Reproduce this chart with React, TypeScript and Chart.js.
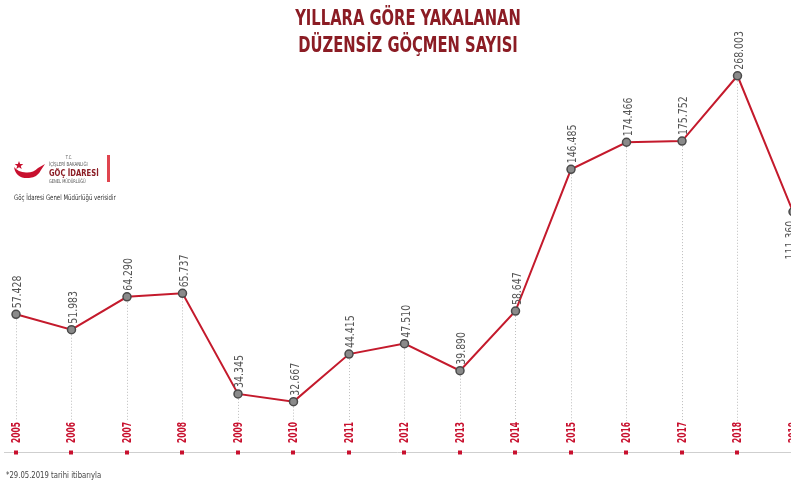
import React, { useEffect, useRef } from "react";
import { Chart, registerables } from "chart.js";

Chart.register(...registerables);

const years = [2005, 2006, 2007, 2008, 2009, 2010, 2011, 2012, 2013, 2014, 2015, 2016, 2017, 2018, 2019];
const values = [57428, 51983, 64290, 65737, 34345, 32667, 44415, 47510, 39890, 58647, 146485, 174466, 175752, 268003, 111360];
const labelBelow = [false, false, false, false, false, false, false, false, false, false, false, false, false, false, true];

const titleLines = ["YILLARA GÖRE YAKALANAN", "DÜZENSİZ GÖÇMEN SAYISI"];
const footnote = "*29.05.2019 tarihi itibarıyla";
const sourceText = "Göç İdaresi Genel Müdürlüğü verisidir";

const NARROW = '"Liberation Sans Narrow", "DejaVu Sans Condensed", "Arial Narrow", sans-serif';
const RED = "#c8102e";
const LINE_RED = "#c41a2c";
const TITLE_RED = "#8b1c24";

function fmt(v: number): string {
  return String(v).replace(/\B(?=(\d{3})+(?!\d))/g, ".");
}

const overlayPlugin = {
  id: "overlay",
  beforeDatasetsDraw(chart: any) {
    const ctx = chart.ctx as CanvasRenderingContext2D;
    const xs = chart.scales.x;
    const ys = chart.scales.y;
    ctx.save();
    ctx.strokeStyle = "#cfcfcf";
    ctx.lineWidth = 1;
    ctx.beginPath();
    ctx.moveTo(4, 452.5);
    ctx.lineTo(791, 452.5);
    ctx.stroke();
    years.forEach((yr, i) => {
      const x = Math.round(xs.getPixelForValue(yr)) + 0.5;
      const y = ys.getPixelForValue(values[i]);
      ctx.strokeStyle = "#bdbdbd";
      ctx.lineWidth = 1;
      ctx.setLineDash([1, 2]);
      ctx.beginPath();
      ctx.moveTo(x, y + 5);
      ctx.lineTo(x, 421);
      ctx.stroke();
      ctx.setLineDash([]);
      ctx.fillStyle = RED;
      ctx.fillRect(x - 2.5, 450.5, 4, 4);
      ctx.save();
      ctx.translate(x, 443);
      ctx.rotate(-Math.PI / 2);
      ctx.scale(0.7, 1);
      ctx.font = "bold 12px " + NARROW;
      ctx.textAlign = "left";
      ctx.textBaseline = "middle";
      ctx.fillStyle = RED;
      ctx.fillText(String(yr), 0, 0);
      ctx.restore();
    });
    ctx.restore();
  },
  afterDatasetsDraw(chart: any) {
    const ctx = chart.ctx as CanvasRenderingContext2D;
    const xs = chart.scales.x;
    const ys = chart.scales.y;
    ctx.save();
    years.forEach((yr, i) => {
      const x = xs.getPixelForValue(yr);
      const y = ys.getPixelForValue(values[i]);
      ctx.save();
      ctx.font = "13px " + NARROW;
      ctx.fillStyle = "#555555";
      ctx.textBaseline = "middle";
      if (labelBelow[i]) {
        ctx.translate(x - 2, y + 9);
        ctx.rotate(-Math.PI / 2);
        ctx.scale(0.8, 1);
        ctx.textAlign = "right";
      } else {
        ctx.translate(x + 2, y - 6);
        ctx.rotate(-Math.PI / 2);
        ctx.scale(0.8, 1);
        ctx.textAlign = "left";
      }
      ctx.fillText(fmt(values[i]), 0, 0);
      ctx.restore();
    });
    ctx.restore();
  },
};

export default function App() {
  const canvasRef = useRef<HTMLCanvasElement | null>(null);

  useEffect(() => {
    if (!canvasRef.current) return;
    const step = 55.5;
    const xMin = 2005 - 16 / step;
    const xMax = xMin + 791 / step;
    const chart = new Chart(canvasRef.current, {
      type: "line",
      data: {
        datasets: [
          {
            data: years.map((yr, i) => ({ x: yr, y: values[i] })),
            borderColor: LINE_RED,
            borderWidth: 2,
            pointRadius: 4,
            pointBackgroundColor: "#8a8a8a",
            pointBorderColor: "#4a4a4a",
            pointBorderWidth: 1.5,
            tension: 0,
            clip: false as any,
            fill: false,
          },
        ],
      },
      options: {
        animation: false,
        responsive: false,
        maintainAspectRatio: false,
        devicePixelRatio: 1,
        layout: { padding: 0, autoPadding: false },
        events: [],
        plugins: {
          legend: { display: false },
          tooltip: { enabled: false },
          title: { display: false },
        },
        scales: {
          x: { type: "linear", min: xMin, max: xMax, display: false },
          y: { type: "logarithmic", min: 19190, max: 437200, display: false },
        },
      },
      plugins: [overlayPlugin],
    });
    return () => chart.destroy();
  }, []);

  return (
    <div
      style={{
        position: "fixed",
        left: 0,
        top: 0,
        width: 791,
        height: 484,
        background: "#ffffff",
        overflow: "hidden",
      }}
    >
      <canvas ref={canvasRef} width={791} height={484} style={{ position: "absolute", left: 0, top: 0 }} />
      <div
        style={{
          position: "absolute",
          left: 108,
          top: 5,
          width: 600,
          textAlign: "center",
          fontFamily: NARROW,
          fontWeight: "bold",
          fontSize: 21,
          lineHeight: "27px",
          color: TITLE_RED,
          transform: "scaleX(0.78)",
          transformOrigin: "center",
        }}
      >
        <div>{titleLines[0]}</div>
        <div>{titleLines[1]}</div>
      </div>
      <svg width={36} height={22} style={{ position: "absolute", left: 12, top: 159 }} viewBox="0 0 36 22">
        <path
          d="M2 8 Q 4 20 17 19 Q 26 18 29 11 L 33 5 L 26 9 Q 21 14 14 13.5 Q 6 13 2 8 Z"
          fill={RED}
        />
        <polygon
          points="7,2 8.1,5 11.3,5.1 8.8,7 9.7,10.1 7,8.3 4.3,10.1 5.2,7 2.7,5.1 5.9,5"
          fill={RED}
        />
      </svg>
      <div
        style={{
          position: "absolute",
          left: 49,
          top: 155,
          width: 70,
          fontFamily: NARROW,
          color: "#555",
          lineHeight: 1,
          whiteSpace: "nowrap",
          transform: "scaleX(0.8)",
          transformOrigin: "left top",
        }}
      >
        <div style={{ fontSize: 5, marginLeft: 21 }}>T.C.</div>
        <div style={{ fontSize: 5.5, marginTop: 1.5 }}>İÇİŞLERİ BAKANLIĞI</div>
        <div style={{ fontSize: 9.5, fontWeight: "bold", color: "#8b1c24", marginTop: 1 }}>GÖÇ İDARESİ</div>
        <div style={{ fontSize: 5, marginTop: 1 }}>GENEL MÜDÜRLÜĞÜ</div>
      </div>
      <div style={{ position: "absolute", left: 107, top: 155, width: 3, height: 27, background: "#e0454f" }} />
      <div
        style={{
          position: "absolute",
          left: 14,
          top: 193,
          fontFamily: NARROW,
          fontSize: 7.5,
          color: "#333",
          whiteSpace: "nowrap",
          transform: "scaleX(0.8)",
          transformOrigin: "left top",
        }}
      >
        {sourceText}
      </div>
      <div
        style={{
          position: "absolute",
          left: 6,
          top: 470,
          fontFamily: NARROW,
          fontSize: 9,
          color: "#444",
          whiteSpace: "nowrap",
          transform: "scaleX(0.85)",
          transformOrigin: "left top",
        }}
      >
        {footnote}
      </div>
    </div>
  );
}
